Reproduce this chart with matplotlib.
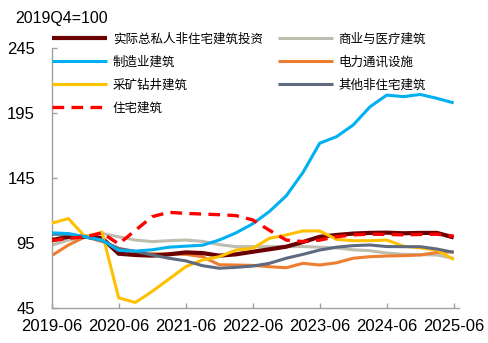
import matplotlib
matplotlib.use("Agg")
import matplotlib.pyplot as plt
import numpy as np

plt.rcParams['font.family'] = ['Liberation Sans', 'Noto Sans CJK SC', 'DejaVu Sans']

quarters = ['2019-06', '2019-09', '2019-12', '2020-03', '2020-06', '2020-09', '2020-12', '2021-03',
            '2021-06', '2021-09', '2021-12', '2022-03', '2022-06', '2022-09', '2022-12', '2023-03',
            '2023-06', '2023-09', '2023-12', '2024-03', '2024-06', '2024-09', '2024-12', '2025-03',
            '2025-06']
tick_labels = ['2019-06', '2020-06', '2021-06', '2022-06', '2023-06', '2024-06', '2025-06']
y_ticks = [45, 95, 145, 195, 245]

total_private = [97.5, 100, 100, 99, 87, 86, 85.5, 86.5, 88, 87.5, 85.5, 86.5, 88.5, 90.4, 92.4, 96,
                 100, 101.4, 102.5, 103, 103.2, 102.7, 103, 103, 99.5]
commercial = [93.5, 97.5, 100, 102.5, 100, 97.5, 96.3, 97, 97.5, 96.5, 94, 92.4, 92.4, 92.4, 92.5, 92.5,
              92, 91.5, 90, 89.3, 87.5, 86.5, 86.3, 86, 83.5]
manufacturing = [103, 102.5, 100, 97.5, 89.5, 89, 90, 92, 92.8, 93.5, 97.5, 103, 110, 119.5, 131.5, 149.5,
                 172, 177, 186, 200, 209, 207.8, 209.5, 206.5, 203]
power = [85.5, 93.7, 100, 96.5, 91, 87.3, 87, 86.8, 86.5, 84.7, 78.5, 78.3, 78, 77, 76.2, 79.6,
         78.3, 80, 83.5, 84.7, 85.2, 85.5, 86, 88, 88.5]
mining = [110.5, 114, 100, 103.5, 53, 49.5, 58, 67.5, 77, 82.2, 84.7, 89.8, 91.2, 98.8, 101.4, 104.5,
          104.5, 98, 97, 97, 97.5, 92.8, 91.5, 89.8, 82.5]
other_nonres = [102, 101.9, 100, 97, 91, 88.8, 86, 83.5, 81.5, 77.8, 75.8, 76.5, 77.5, 79.6, 83.5, 86.5,
                89.8, 92, 93.2, 93.7, 92.5, 92.4, 92.4, 90.6, 88]
residential = [97, 98.8, 100, 103, 94.5, 105, 115.5, 118.8, 118, 117.5, 117, 116.3, 113, 105, 97.5, 96.3,
               97.5, 100, 101.5, 102, 101.8, 101.5, 101.8, 102, 100.5]

# months since 2019-06 for each quarter
def months(lbl):
    y, m = lbl.split('-')
    return (int(y) - 2019) * 12 + int(m) - 6

x = np.array([months(q) for q in quarters])
xt = [months(t) for t in tick_labels]

fig = plt.figure(figsize=(4.88, 3.43), dpi=100)
ax = fig.add_axes([51.7 / 488, 1 - 308.3 / 343, (459.3 - 51.7) / 488, (308.3 - 48.3) / 343])

series = [
    ('实际总私人非住宅建筑投资', total_private, '#6B0000', 3.0, '-', 3),
    ('商业与医疗建筑', commercial, '#BFBDB0', 2.2, '-', 2),
    ('制造业建筑', manufacturing, '#00B0F0', 2.2, '-', 4),
    ('电力通讯设施', power, '#ED7D31', 2.2, '-', 2),
    ('采矿钻井建筑', mining, '#FFC000', 2.2, '-', 3),
    ('其他非住宅建筑', other_nonres, '#5F6A80', 2.2, '-', 3),
    ('住宅建筑', residential, '#FF0000', 2.4, '--', 5),
]
handles = {}
for name, vals, col, lw, ls, z in series:
    ln, = ax.plot(x, vals, color=col, lw=lw, ls=ls, zorder=z, solid_capstyle='butt',
                  solid_joinstyle='miter')
    if ls == '--':
        ln.set_dashes((3.5, 2.2))
    handles[name] = ln

ax.set_xlim(0, 73)
ax.set_ylim(45, 245)
ax.set_yticks(y_ticks)
ax.set_xticks(xt)
ax.set_xticklabels(tick_labels)
for s in ['top', 'right']:
    ax.spines[s].set_visible(False)
for s in ['left', 'bottom']:
    ax.spines[s].set_color('#A0A0A0')
    ax.spines[s].set_linewidth(1.0)
ax.tick_params(axis='both', direction='in', length=3.5, width=1.0, color='#A0A0A0',
               labelsize=12, labelcolor='black')
ax.tick_params(axis='y', pad=12)
ax.tick_params(axis='x', pad=7.5)

order = ['实际总私人非住宅建筑投资', '制造业建筑', '采矿钻井建筑', '住宅建筑',
         '商业与医疗建筑', '电力通讯设施', '其他非住宅建筑']
leg = fig.legend([handles[n] for n in order], order, loc='upper left',
                 bbox_to_anchor=(52 / 488, 1 - 33.5 / 343), ncol=2, frameon=False,
                 fontsize=9, handlelength=4.4, handletextpad=0.45, labelspacing=0.84,
                 columnspacing=1.2, borderpad=0, borderaxespad=0)

fig.text(15 / 488, 1 - 18 / 343, '2019Q4=100', fontsize=11.5, va='center', ha='left')

fig.savefig('out.png', dpi=100)
